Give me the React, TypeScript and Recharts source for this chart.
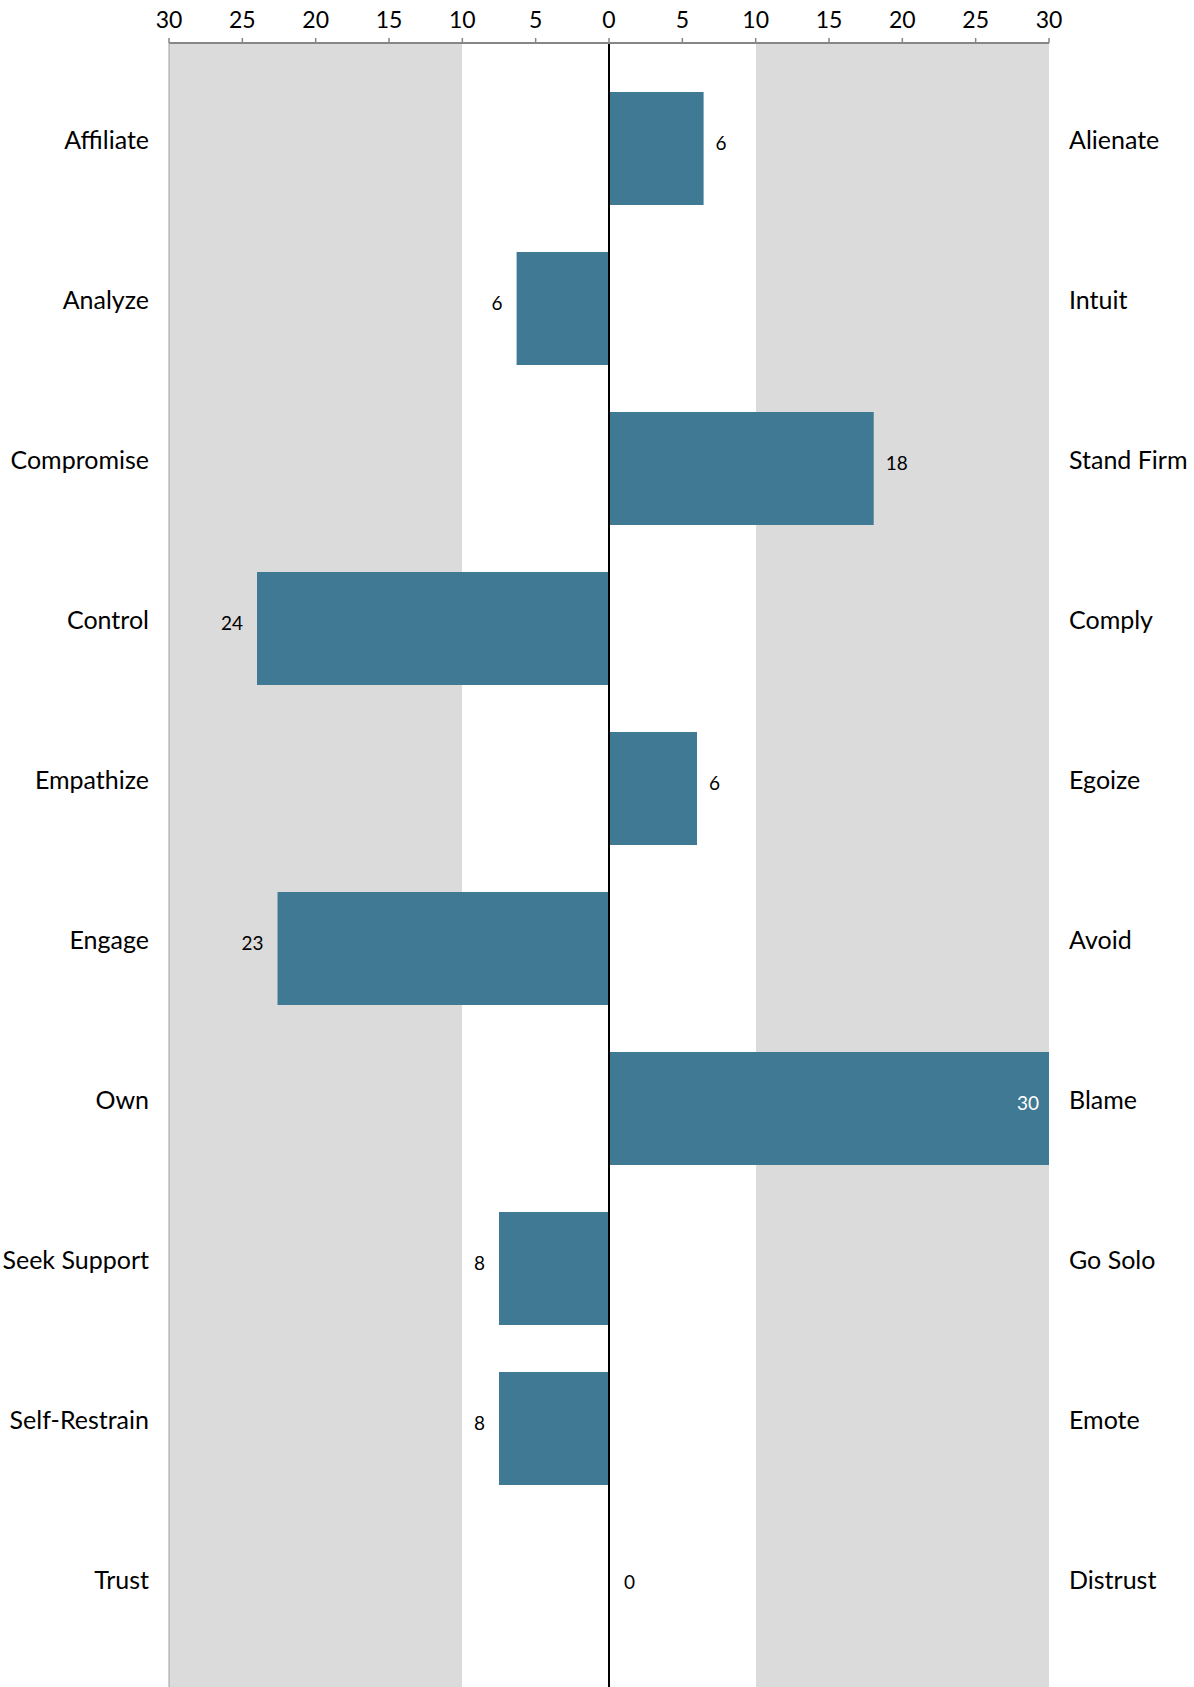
import { BarChart, Bar, XAxis, YAxis, CartesianGrid, ReferenceLine, ReferenceDot, LabelList } from 'recharts';

const leftLabels = ['Affiliate', 'Analyze', 'Compromise', 'Control', 'Empathize', 'Engage', 'Own', 'Seek Support', 'Self-Restrain', 'Trust'];
const rightLabels = ['Alienate', 'Intuit', 'Stand Firm', 'Comply', 'Egoize', 'Avoid', 'Blame', 'Go Solo', 'Emote', 'Distrust'];
// negative = towards the left-hand trait, positive = towards the right-hand trait
const scores = [6.45, -6.3, 18.05, -24, 6, -22.6, 30, -7.5, -7.5, 0];
const xTicks = [-30, -25, -20, -15, -10, -5, 0, 5, 10, 15, 20, 25, 30];

const FONT = 'Lato, "Open Sans", sans-serif';
const BAR_COLOR = '#3f7994';
const BAND_COLOR = '#dbdbdb';

// one fill per 5-point stripe between the x ticks: shaded outside ±10
const stripeFills = xTicks.slice(1).map((t) => (t <= -10 || t > 10 ? BAND_COLOR : '#ffffff'));

const data = leftLabels.map((name, i) => ({
  left: name,
  right: rightLabels[i],
  score: scores[i],
}));

const TopTick = ({ x, y, payload }: any) => (
  <text x={x} y={y} textAnchor="middle" fontSize={23} fontFamily={FONT} fill="#000">
    {Math.abs(payload.value)}
  </text>
);

const LeftTick = ({ x, y, payload }: any) => (
  <text x={x} y={y + 1} textAnchor="end" fontSize={25} fontFamily={FONT} fill="#000">
    {payload.value}
  </text>
);

const RightTick = ({ x, y, payload }: any) => (
  <text x={x} y={y + 1} textAnchor="start" fontSize={25} fontFamily={FONT} fill="#000">
    {payload.value}
  </text>
);

const ScoreLabel = (props: any) => {
  const { x, y, width, height, value } = props;
  if (value === 0) return null; // zero bars get their label from a ReferenceDot
  const end = x + width;
  const cy = y + height / 2 + 1;
  const text = Math.round(Math.abs(value));
  if (value >= 28) {
    return (
      <text x={end - 10} y={cy} textAnchor="end" fontSize={19} fontFamily={FONT} fill="#fff">
        {text}
      </text>
    );
  }
  if (value < 0) {
    return (
      <text x={end - 14} y={cy} textAnchor="end" fontSize={19} fontFamily={FONT} fill="#000">
        {text}
      </text>
    );
  }
  return (
    <text x={end + 12} y={cy} textAnchor="start" fontSize={19} fontFamily={FONT} fill="#000">
      {text}
    </text>
  );
};

const ZeroLabel = ({ viewBox }: any) => (
  <text x={viewBox.x + 15} y={viewBox.y + 1} textAnchor="start" fontSize={19} fontFamily={FONT} fill="#000">
    0
  </text>
);

export default function App() {
  return (
    <div style={{ position: 'absolute', left: 0, top: 0, width: 1194, height: 1687, overflow: 'hidden', background: '#fff' }}>
      <BarChart
        width={1194}
        height={1694}
        data={data}
        layout="vertical"
        margin={{ top: 1, right: 0, bottom: 0, left: 0 }}
      >
        <CartesianGrid
          horizontal={false}
          vertical={true}
          verticalFill={stripeFills}
          fillOpacity={1}
          stroke="transparent"
          strokeOpacity={0}
        />
        <XAxis
          type="number"
          orientation="top"
          domain={[-30, 30]}
          ticks={xTicks}
          height={42}
          tickSize={5}
          tickMargin={10}
          tick={<TopTick />}
          axisLine={{ stroke: '#868686', strokeWidth: 2 }}
          tickLine={{ stroke: '#868686', strokeWidth: 1.5 }}
          interval={0}
        />
        <YAxis
          type="category"
          dataKey="left"
          width={169}
          padding={{ top: 25, bottom: 26 }}
          tickSize={0}
          tickMargin={20}
          tickLine={false}
          axisLine={{ stroke: '#a0a0a0', strokeWidth: 1 }}
          tick={<LeftTick />}
          interval={0}
        />
        <YAxis
          yAxisId="right"
          type="category"
          dataKey="right"
          orientation="right"
          width={145}
          padding={{ top: 25, bottom: 26 }}
          tickSize={0}
          tickMargin={20}
          tickLine={false}
          axisLine={false}
          tick={<RightTick />}
          interval={0}
        />
        <Bar dataKey="score" fill={BAR_COLOR} barSize={113} isAnimationActive={false}>
          <LabelList dataKey="score" content={<ScoreLabel />} />
        </Bar>
        <ReferenceLine x={0} stroke="#000" strokeWidth={2} />
        {data
          .filter((d) => d.score === 0)
          .map((d) => (
            <ReferenceDot
              key={d.left}
              x={0}
              y={d.left}
              r={0}
              fill="none"
              stroke="none"
              label={<ZeroLabel />}
            />
          ))}
      </BarChart>
    </div>
  );
}
